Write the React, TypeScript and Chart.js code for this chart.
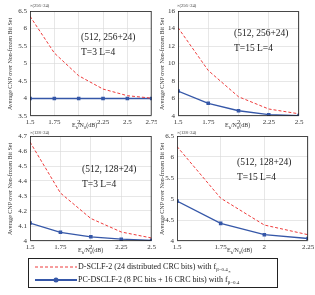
import React, { useEffect, useRef } from "react";
import { Chart, registerables } from "chart.js";
Chart.register(...registerables);

// ---- data ----
const xTL = [1.5, 1.75, 2, 2.25, 2.5, 2.75];
const redTL = [6.35, 5.3, 4.65, 4.27, 4.08, 4.01];
const blueTL = [4, 4, 4, 4, 4, 4];

const xTR = [1.5, 1.75, 2, 2.25, 2.5];
const redTR = [14.1, 9.2, 6.2, 4.8, 4.25];
const blueTR = [6.85, 5.45, 4.6, 4.15, 4.05];

const xBL = [1.5, 1.75, 2, 2.25, 2.5];
const redBL = [4.66, 4.32, 4.15, 4.06, 4.02];
const blueBL = [4.12, 4.058, 4.028, 4.012, 4.004];

const xBR = [1.5, 1.75, 2, 2.25];
const redBR = [6.25, 5.02, 4.38, 4.15];
const blueBR = [4.95, 4.42, 4.15, 4.06];

const RED = "#ee3b3b";
const BLUE = "#3557a8";
const FONT = "'Liberation Serif', 'Times New Roman', serif";

type PanelProps = {
  xs: number[]; red: number[]; blue: number[];
  xmin: number; xmax: number; ymin: number; ymax: number; ystep: number;
  cl: number; ct: number; cw: number; ch: number;
  pl: number; pr: number; pt: number; pb: number;
};

const framePlugin = {
  id: "frame",
  afterDraw(chart: any) {
    const { ctx, chartArea: a } = chart;
    ctx.save();
    ctx.strokeStyle = "#222";
    ctx.lineWidth = 0.8;
    ctx.strokeRect(a.left + 0.5, a.top + 0.5, a.right - a.left - 1, a.bottom - a.top - 1);
    ctx.restore();
  },
};

function Panel(p: PanelProps) {
  const ref = useRef<HTMLCanvasElement>(null);
  useEffect(() => {
    const yw = p.pl - p.cl;
    const xh = p.ct + p.ch - p.pb;
    const chart = new Chart(ref.current!, {
      type: "scatter",
      data: {
        datasets: [
          {
            data: p.xs.map((x, i) => ({ x, y: p.red[i] })),
            showLine: true, borderColor: RED, borderWidth: 1, borderDash: [3, 2],
            pointRadius: 0, fill: false,
          },
          {
            data: p.xs.map((x, i) => ({ x, y: p.blue[i] })),
            showLine: true, borderColor: BLUE, borderWidth: 1.3,
            pointRadius: 1.6, pointStyle: "rect", pointBackgroundColor: BLUE, pointBorderColor: BLUE,
            fill: false,
          },
        ],
      },
      options: {
        animation: false, responsive: false,
        layout: { padding: { left: 0, right: p.cl + p.cw - p.pr, top: p.pt - p.ct, bottom: 0 } },
        plugins: { legend: { display: false }, tooltip: { enabled: false } },
        scales: {
          x: {
            type: "linear", min: p.xmin, max: p.xmax,
            grid: { color: "#d6d6d6", lineWidth: 0.6, drawTicks: false },
            border: { display: false },
            ticks: { stepSize: 0.25, padding: 2, color: "#333", font: { family: FONT, size: 7 }, maxRotation: 0, autoSkip: false,
              callback: (v: any) => String(Number(v)) },
            afterFit: (s: any) => { s.height = xh; s.paddingLeft = 0; s.paddingRight = 0; },
          },
          y: {
            type: "linear", min: p.ymin, max: p.ymax,
            grid: { color: "#d6d6d6", lineWidth: 0.6, drawTicks: false },
            border: { display: false },
            ticks: { stepSize: p.ystep, padding: 3, color: "#333", font: { family: FONT, size: 7 },
              callback: (v: any) => String(Math.round(Number(v) * 100) / 100) },
            afterFit: (s: any) => { s.width = yw; s.paddingTop = 0; s.paddingBottom = 0; },
          },
        },
      },
      plugins: [framePlugin],
    } as any);
    return () => chart.destroy();
  }, []);
  return (
    <canvas ref={ref} width={p.cw} height={p.ch}
      style={{ position: "absolute", left: p.cl, top: p.ct, width: p.cw, height: p.ch }} />
  );
}

const abs = (left: number, top: number, extra: any = {}) => ({ position: "absolute" as const, left, top, ...extra });

function Note({ x, y, a, b }: { x: number; y: number; a: string; b: string }) {
  return (
    <div style={abs(x, y, { fontFamily: FONT, fontSize: 9.5, lineHeight: "15px", color: "#222", whiteSpace: "nowrap" })}>
      <div>{a}</div><div>{b}</div>
    </div>
  );
}

const subS = { fontSize: 4.5, lineHeight: 0, verticalAlign: "-1.5px" };

function XTitle({ x, y }: { x: number; y: number }) {
  return (
    <div style={abs(x, y, { fontFamily: FONT, fontSize: 6, color: "#333", whiteSpace: "nowrap", lineHeight: "7px" })}>
      E<span style={subS}>b</span>/N<span style={subS}>0</span>(dB)
    </div>
  );
}

function YTitle({ cx, cy }: { cx: number; cy: number }) {
  return (
    <div style={abs(cx - 60, cy - 4, { width: 120, textAlign: "center", fontFamily: FONT, fontSize: 6, color: "#333",
      whiteSpace: "nowrap", lineHeight: "8px", transform: "rotate(-90deg)" })}>
      Average CNP over Non-frozen Bit Set
    </div>
  );
}

function Mult({ x, y, t }: { x: number; y: number; t: string }) {
  return <div style={abs(x, y, { fontFamily: FONT, fontSize: 4.5, color: "#333", whiteSpace: "nowrap", lineHeight: "5px" })}>{t}</div>;
}

const legSub = { fontSize: 5, lineHeight: 0, verticalAlign: "-2px" };
const legSup = { fontSize: 5, lineHeight: 0, verticalAlign: "3px" };

export default function App() {
  useEffect(() => { document.body.style.margin = "0"; }, []);
  return (
    <div style={{ position: "relative", width: 315, height: 295, background: "#fff", overflow: "hidden" }}>
      <Panel xs={xTL} red={redTL} blue={blueTL} xmin={1.5} xmax={2.75} ymin={3.5} ymax={6.5} ystep={0.5}
        cl={0} ct={0} cw={157} ch={130} pl={30} pr={153} pt={11} pb={116} />
      <Panel xs={xTR} red={redTR} blue={blueTR} xmin={1.5} xmax={2.5} ymin={4} ymax={16} ystep={2}
        cl={157} ct={0} cw={158} ch={130} pl={178} pr={299} pt={11} pb={116} />
      <Panel xs={xBL} red={redBL} blue={blueBL} xmin={1.5} xmax={2.5} ymin={4} ymax={4.7} ystep={0.1}
        cl={0} ct={126} cw={157} ch={130} pl={30} pr={153} pt={136} pb={241} />
      <Panel xs={xBR} red={redBR} blue={blueBR} xmin={1.5} xmax={2.25} ymin={4} ymax={6.5} ystep={0.5}
        cl={157} ct={126} cw={158} ch={130} pl={177} pr={308} pt={136} pb={241} />

      <YTitle cx={10} cy={64} />
      <YTitle cx={162} cy={64} />
      <YTitle cx={10} cy={189} />
      <YTitle cx={162} cy={189} />

      <Mult x={30} y={3} t="×(256+24)" />
      <Mult x={177} y={3} t="×(256+24)" />
      <Mult x={30} y={130} t="×(128+24)" />
      <Mult x={177} y={130} t="×(128+24)" />

      <XTitle x={72} y={122} />
      <XTitle x={225} y={122} />
      <XTitle x={78} y={247} />
      <XTitle x={227} y={247} />

      <Note x={81} y={30} a="(512, 256+24)" b="T=3 L=4" />
      <Note x={234} y={26} a="(512, 256+24)" b="T=15 L=4" />
      <Note x={82} y={162} a="(512, 128+24)" b="T=3 L=4" />
      <Note x={237} y={155} a="(512, 128+24)" b="T=15 L=4" />

      <div style={abs(28, 258, { width: 248, height: 28, border: "1.2px solid #222", fontFamily: FONT, fontSize: 8, color: "#222" })}>
        <div style={abs(5, 3, { whiteSpace: "nowrap", lineHeight: "10px", height: 10, display: "flex", alignItems: "center" })}>
          <svg width={44} height={8}><line x1={1} y1={4} x2={43} y2={4} stroke={RED} strokeWidth={1} strokeDasharray="3 2" /></svg>
          <span>D-SCLF-2 (24 distributed CRC bits) with f<span style={legSub}>β=0.4</span></span>
        </div>
        <div style={abs(5, 16, { whiteSpace: "nowrap", lineHeight: "10px", height: 10, display: "flex", alignItems: "center" })}>
          <svg width={44} height={8}>
            <line x1={1} y1={4} x2={43} y2={4} stroke={BLUE} strokeWidth={2} />
            <circle cx={22} cy={4} r={2.5} fill={BLUE} />
          </svg>
          <span>PC-DSCLF-2 (8 PC bits + 16 CRC bits) with f<span style={{ position: "relative" }}><span style={{ ...legSup, position: "absolute", left: 0.5, top: -2 }}>*</span><span style={legSub}>β=0.4</span></span></span>
        </div>
      </div>
    </div>
  );
}
